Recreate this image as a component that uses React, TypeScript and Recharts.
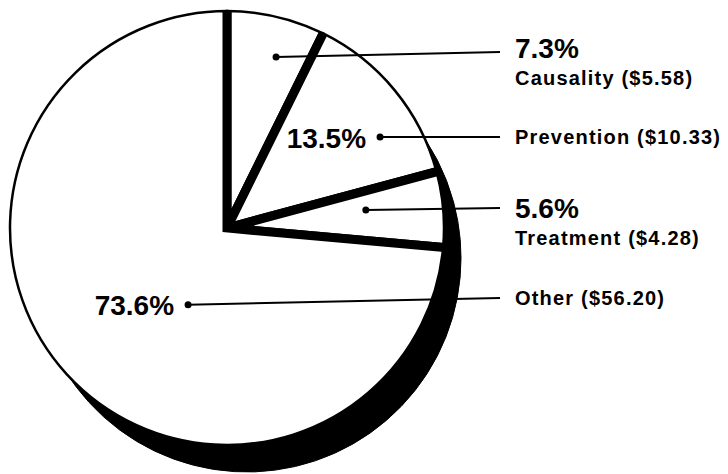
import { PieChart, Pie, Cell } from "recharts";

const categories = ["Causality", "Prevention", "Treatment", "Other"];
const amounts = [5.58, 10.33, 4.28, 56.2];
const amountLabels = ["$5.58", "$10.33", "$4.28", "$56.20"];

const data = categories.map((name, i) => ({ name, value: amounts[i] }));

// layout
const W = 728;
const H = 474;
const CX = 227;
const CY = 228;
const R = 217;
const TEXT_X = 515;
const LINE_END_X = 500;

// where each leader dot sits (polar, from the pie centre) and where its text goes
const LABELS = [
  { angle: 74, r: 178, lineY: 52, bigSide: "right", bigY: 58, nameY: 85 },
  { angle: 30.7, r: 178, lineY: 137, bigSide: "left", bigY: 148, nameY: 144 },
  { angle: 7.4, r: 140, lineY: 208, bigSide: "right", bigY: 218, nameY: 245 },
  { angle: -116.9, r: 86, lineY: 298, bigSide: "left", bigY: 315, nameY: 305 },
];

const BIG = { fontSize: 28, fontWeight: 700 };
const SMALL = { fontSize: 20, fontWeight: 700, letterSpacing: 1.2 };
const FONT = "'Liberation Sans', Arial, sans-serif";

function renderLabel(props: any) {
  const { cx, cy, index, percent, name } = props;
  const L = LABELS[index];
  const rad = (L.angle * Math.PI) / 180;
  const x = cx + L.r * Math.cos(rad);
  const y = cy - L.r * Math.sin(rad);
  const pct = `${(percent * 100).toFixed(1)}%`;
  return (
    <g key={`lbl-${index}`} fontFamily={FONT} fill="#000">
      <line x1={x} y1={y} x2={LINE_END_X} y2={L.lineY} stroke="#000" strokeWidth={2} />
      <circle cx={x} cy={y} r={3.5} fill="#000" />
      {L.bigSide === "right" ? (
        <text x={TEXT_X} y={L.bigY} {...BIG}>
          {pct}
        </text>
      ) : (
        <text x={x - 14} y={L.bigY} textAnchor="end" {...BIG}>
          {pct}
        </text>
      )}
      <text x={TEXT_X} y={L.nameY} {...SMALL}>
        {`${name} (${amountLabels[index]})`}
      </text>
    </g>
  );
}

export default function App() {
  return (
    <div style={{ position: "absolute", left: 0, top: 0, background: "#fff" }}>
      <style>{`.main-pie { clip-path: url(#pieClip); }`}</style>
      <PieChart width={W} height={H} margin={{ top: 0, right: 0, bottom: 0, left: 0 }}>
        <defs>
          <clipPath id="pieClip">
            <circle cx={CX} cy={CY} r={R} />
          </clipPath>
        </defs>
        {/* drop shadow */}
        <Pie
          data={data}
          dataKey="value"
          cx={CX + 20}
          cy={CY + 30}
          outerRadius={214}
          startAngle={90}
          endAngle={-270}
          isAnimationActive={false}
        >
          {data.map((d) => (
            <Cell key={d.name} fill="#000" stroke="#000" />
          ))}
        </Pie>
        {/* white slices, thick black separators, clipped to the rim */}
        <Pie
          className="main-pie"
          data={data}
          dataKey="value"
          cx={CX}
          cy={CY}
          outerRadius={R + 14}
          startAngle={90}
          endAngle={-270}
          isAnimationActive={false}
        >
          {data.map((d) => (
            <Cell key={d.name} fill="#fff" stroke="#000" strokeWidth={9} clipPath="url(#pieClip)" />
          ))}
        </Pie>
        {/* thin rim + labels */}
        <Pie
          data={data}
          dataKey="value"
          cx={CX}
          cy={CY}
          outerRadius={R}
          startAngle={90}
          endAngle={-270}
          isAnimationActive={false}
          label={renderLabel}
          labelLine={false}
        >
          {data.map((d) => (
            <Cell key={d.name} fill="none" stroke="#000" strokeWidth={2.5} />
          ))}
        </Pie>
      </PieChart>
    </div>
  );
}
